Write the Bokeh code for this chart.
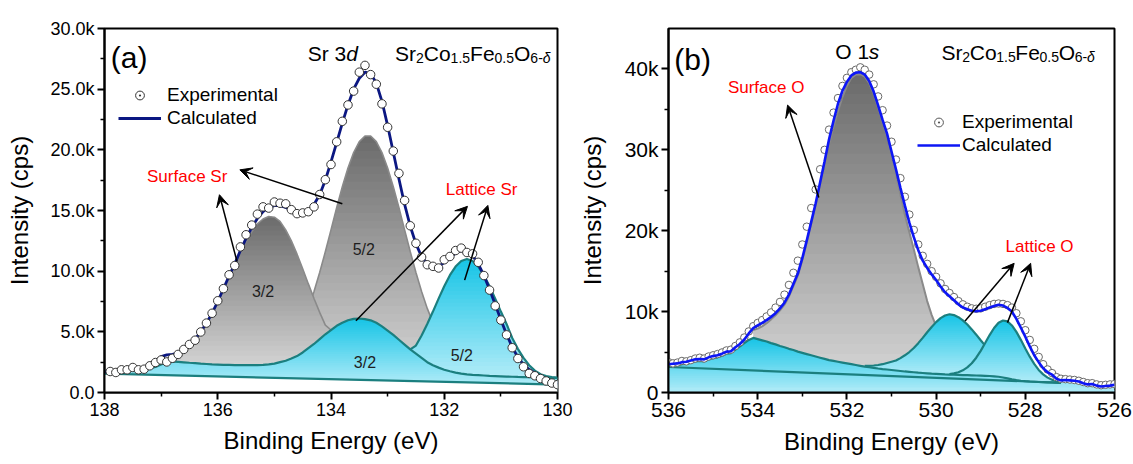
import numpy as np
from bokeh.plotting import figure
from bokeh.layouts import row
from bokeh.models import Range1d, FixedTicker, Arrow, VeeHead, Label, Legend, LegendItem
from bokeh.embed import file_html
from bokeh.resources import INLINE

FONT = "Liberation Sans"

# ====================== panel (a): Sr 3d (values in k cps) ======================
a_grid_first, a_grid_last, a_grid_n = 138.0, 130.0, 81
a_exp_first, a_exp_last, a_exp_n = 137.9, 130.0, 80

a_exp = [1.73, 1.65, 1.87, 1.87, 2.06, 1.87, 1.92, 2.20, 2.47, 2.68,
         2.52, 2.82, 3.14, 3.55, 3.96, 4.31, 4.99, 5.72, 6.53, 7.56,
         8.56, 9.70, 10.46, 12.00, 13.00, 13.80, 14.70, 15.30, 15.20, 15.70,
         15.60, 15.55, 15.07, 14.74, 14.80, 14.90, 15.30, 16.32, 17.54, 18.79,
         20.66, 22.35, 23.70, 24.84, 26.40, 26.96, 26.20, 25.41, 23.79, 21.86,
         19.90, 18.06, 15.83, 13.74, 12.30, 11.16, 10.53, 10.40, 10.26, 10.94,
         11.21, 11.70, 11.90, 11.54, 11.43, 10.73, 9.64, 8.44, 7.14, 5.97,
         4.75, 3.69, 2.80, 2.12, 1.57, 1.38, 1.15, 0.95, 0.78, 0.65]

a_calc = [1.70, 1.72, 1.75, 1.80, 1.85, 1.90, 1.95, 2.00, 2.15, 2.50,
          2.95, 3.10, 3.15, 3.25, 3.55, 3.95, 4.40, 5.00, 5.70, 6.55,
          7.50, 8.55, 9.60, 10.60, 11.70, 12.70, 13.60, 14.35, 14.90, 15.25,
          15.40, 15.40, 15.25, 15.05, 14.85, 14.80, 15.00, 15.50, 16.30, 17.50,
          19.00, 20.60, 22.20, 23.70, 25.00, 25.90, 26.40, 26.30, 25.50, 24.00,
          22.00, 19.80, 17.60, 15.50, 13.70, 12.25, 11.20, 10.60, 10.35, 10.40,
          10.70, 11.10, 11.50, 11.70, 11.65, 11.30, 10.60, 9.65, 8.50, 7.25,
          6.00, 4.80, 3.75, 2.90, 2.30, 1.90, 1.60, 1.35, 1.10, 0.88,
          0.72]

# lattice Sr 3d3/2 component on its Shirley background (lower envelope)
a_lat32 = [1.72, 1.74, 1.76, 1.80, 1.83, 1.86, 1.90, 1.95, 2.00, 2.10,
           2.30, 2.55, 2.55, 2.52, 2.49, 2.45, 2.42, 2.38, 2.35, 2.32,
           2.30, 2.28, 2.27, 2.26, 2.25, 2.25, 2.25, 2.26, 2.28, 2.32,
           2.38, 2.50, 2.62, 2.80, 3.00, 3.30, 3.65, 4.00, 4.40, 4.80,
           5.15, 5.50, 5.75, 5.95, 6.07, 6.10, 6.05, 5.95, 5.75, 5.45,
           5.10, 4.75, 4.35, 3.95, 3.55, 3.20, 2.85, 2.50, 2.25, 2.05,
           1.88, 1.75, 1.64, 1.55, 1.50, 1.46, 1.43, 1.40, 1.37, 1.35,
           1.33, 1.31, 1.30, 1.28, 1.27, 1.26, 1.24, 1.23, 1.21, 1.20,
           1.18]

a_bg_x = [138.0, 130.0]
a_bg_y = [1.55, 0.65]

a_sur32_first = 136.9
a_sur32 = [2.55, 2.70, 2.95, 3.30, 3.75, 4.25, 4.90, 5.65, 6.50, 7.45,
           8.45, 9.50, 10.55, 11.55, 12.45, 13.25, 13.90, 14.30, 14.50, 14.45,
           14.10, 13.40, 12.50, 11.40, 10.20, 8.95, 7.75, 6.60, 5.55, 5.15]

a_sur52_first = 134.6
a_sur52 = [4.80, 5.76, 6.93, 8.32, 9.89, 11.60, 13.40, 15.23, 16.96, 18.51,
           19.78, 20.68, 21.14, 21.14, 20.68, 19.78, 18.51, 16.96, 15.23, 13.40,
           11.60, 9.89, 8.32, 6.93, 5.76, 4.80, 4.04]

a_lat52_first = 132.6
a_lat52 = [3.18, 3.87, 4.70, 5.65, 6.67, 7.74, 8.76, 9.67, 10.38, 10.84,
           11.00, 10.84, 10.38, 9.67, 8.76, 7.74, 6.67, 5.65, 4.50, 3.60,
           2.85, 2.25, 1.80, 1.50, 1.35, 1.27, 1.22]

a_xticks = [138, 136, 134, 132, 130]
a_xminor = [137, 135, 133, 131]
a_yticks = [0, 5, 10, 15, 20, 25, 30]
a_yminor = [2.5, 7.5, 12.5, 17.5, 22.5, 27.5]
a_ylabels = ["0.0", "5.0k", "10.0k", "15.0k", "20.0k", "25.0k", "30.0k"]

# ====================== panel (b): O 1s (values in k cps) ======================
b_grid_first, b_grid_last, b_grid_n = 536.0, 526.0, 101

b_exp = [3.75, 3.60, 3.70, 3.90, 3.85, 4.00, 4.20, 4.30, 4.20, 4.45,
         4.60, 4.75, 4.95, 5.20, 5.30, 5.75, 6.20, 6.80, 7.55, 8.20,
         8.60, 8.95, 9.40, 9.90, 10.50, 11.20, 12.10, 13.30, 14.80, 16.30,
         18.30, 20.50, 22.80, 25.10, 27.60, 30.00, 32.50, 34.60, 36.40, 37.90,
         38.90, 39.60, 39.90, 40.20, 39.90, 39.30, 38.10, 36.60, 34.90, 33.00,
         31.00, 28.80, 26.50, 24.20, 22.00, 20.10, 18.30, 16.90, 15.90, 15.00,
         14.30, 13.50, 12.80, 12.30, 11.80, 11.30, 10.90, 10.60, 10.40, 10.35,
         10.40, 10.60, 10.80, 10.95, 11.00, 10.95, 10.80, 10.50, 9.80, 8.80,
         7.70, 6.50, 5.40, 4.40, 3.50, 2.85, 2.40, 1.90, 1.70, 1.65,
         1.60, 1.55, 1.45, 1.30, 1.15, 1.15, 1.00, 0.90, 0.95, 1.00,
         1.05]

b_calc = [3.50, 3.55, 3.60, 3.75, 3.80, 3.95, 4.10, 4.15, 4.10, 4.35,
          4.50, 4.60, 4.80, 5.05, 5.10, 5.60, 6.00, 6.55, 7.30, 7.95,
          8.30, 8.60, 8.95, 9.35, 9.80, 10.40, 11.10, 12.10, 13.40, 14.70,
          16.60, 18.80, 21.10, 23.40, 26.00, 28.60, 31.30, 33.60, 35.70, 37.30,
          38.40, 39.20, 39.55, 39.60, 39.30, 38.50, 37.20, 35.50, 33.70, 32.00,
          29.80, 27.60, 25.30, 23.10, 21.00, 19.20, 17.60, 16.30, 15.40, 14.60,
          13.90, 13.10, 12.40, 11.90, 11.40, 10.90, 10.50, 10.30, 10.10, 10.05,
          10.10, 10.30, 10.50, 10.70, 10.85, 10.75, 10.45, 10.00, 9.10, 8.00,
          6.90, 5.70, 4.60, 3.75, 3.00, 2.50, 2.20, 1.70, 1.50, 1.55,
          1.50, 1.45, 1.35, 1.15, 1.00, 1.05, 0.85, 0.75, 0.80, 0.85,
          0.95]

# shoulder component (534 eV) on its Shirley background = lower envelope
b_base = [3.25, 3.30, 3.35, 3.50, 3.55, 3.70, 3.85, 3.90, 3.85, 4.10,
          4.25, 4.35, 4.55, 4.80, 4.85, 5.30, 5.70, 6.10, 6.50, 6.75,
          6.60, 6.45, 6.30, 6.10, 5.95, 5.75, 5.60, 5.40, 5.25, 5.05,
          4.90, 4.75, 4.60, 4.45, 4.30, 4.15, 4.00, 3.90, 3.80, 3.70,
          3.60, 3.50, 3.40, 3.30, 3.20, 3.12, 3.05, 2.97, 2.90, 2.84,
          2.78, 2.72, 2.66, 2.60, 2.55, 2.50, 2.45, 2.41, 2.37, 2.33,
          2.30, 2.27, 2.24, 2.22, 2.20, 2.18, 2.16, 2.14, 2.12, 2.10,
          2.08, 2.06, 2.04, 2.00, 1.95, 1.85, 1.75, 1.62, 1.52, 1.45,
          1.40, 1.36, 1.33, 1.30, 1.28, 1.26, 1.24, 1.22, 1.20, 1.35,
          1.35, 1.30, 1.20, 1.02, 0.88, 0.92, 0.74, 0.64, 0.68, 0.73,
          0.83]
b_base_line_last = 527.2

b_bg_x = [536.0, 527.2]
b_bg_y = [3.15, 1.20]

b_surf_first = 534.1
b_surf = [7.72, 7.90, 8.18, 8.57, 9.04, 9.55, 10.15, 10.85, 11.85, 13.15,
          14.45, 16.35, 18.55, 20.85, 23.15, 25.75, 28.35, 30.68, 32.85, 34.82,
          36.53, 37.90, 38.90, 39.30, 39.35, 39.05, 38.25, 36.95, 35.25, 33.45,
          31.75, 29.46, 26.99, 24.48, 21.96, 19.80, 17.70, 15.50, 13.40, 11.30,
          9.60, 8.20, 7.00, 6.00, 5.16, 4.47, 3.91]

b_lat1_first = 531.6
b_lat1 = [3.28, 3.30, 3.34, 3.40, 3.50, 3.65, 3.80, 3.95, 4.25, 4.60,
          5.00, 5.50, 6.10, 6.75, 7.45, 8.10, 8.70, 9.20, 9.52, 9.67,
          9.57, 9.31, 8.92, 8.40, 7.80, 7.15, 6.46, 5.79, 5.14, 4.54,
          4.01, 3.55, 3.15, 2.83, 2.57, 2.37, 2.20]

b_lat2_first = 529.7
b_lat2 = [2.28, 2.36, 2.50, 2.74, 3.10, 3.61, 4.30, 5.15, 6.11, 7.10,
          7.97, 8.62, 8.90, 8.80, 8.29, 7.49, 6.51, 5.45, 4.43, 3.53,
          2.79, 2.24, 1.84, 1.57, 1.40, 1.29]

b_xticks = [536, 534, 532, 530, 528, 526]
b_xminor = [535, 533, 531, 529, 527]
b_yticks = [0, 10, 20, 30, 40]
b_yminor = [5, 15, 25, 35]
b_ylabels = ["0", "10k", "20k", "30k", "40k"]

# ---------------------------------------------------------------------------
a_grid = np.round(np.linspace(a_grid_first, a_grid_last, a_grid_n), 2)
a_exp_x = np.round(np.linspace(a_exp_first, a_exp_last, a_exp_n), 2)
b_grid = np.round(np.linspace(b_grid_first, b_grid_last, b_grid_n), 2)
for name, arr, n in [("a_exp", a_exp, a_exp_n), ("a_calc", a_calc, a_grid_n), ("a_lat32", a_lat32, a_grid_n),
                     ("b_exp", b_exp, b_grid_n), ("b_calc", b_calc, b_grid_n), ("b_base", b_base, b_grid_n)]:
    if len(arr) != n:
        raise SystemExit("length mismatch %s %d != %d" % (name, len(arr), n))

TEAL = "#1b7f7f"
GRAY_EDGE = "#8a8a8a"
GRAY_TOP, GRAY_BOT = "#6a6a6a", "#d3d3d3"
CYAN_TOP, CYAN_BOT = "#16c4e6", "#b2ecf8"


def hex2rgb(h):
    h = h.lstrip("#")
    return tuple(int(h[i:i + 2], 16) for i in (0, 2, 4))


def mix(c_from, c_to, t):
    a, b = hex2rgb(c_from), hex2rgb(c_to)
    return "#%02x%02x%02x" % tuple(int(round(a[i] + (b[i] - a[i]) * t)) for i in range(3))


def subdivide(x, y, m=10):
    """Extra vertices placed on the straight segments of the same polyline (shape unchanged),
    so that horizontal colour bands follow the drawn outline closely."""
    x = np.asarray(x, float)
    y = np.asarray(y, float)
    t = np.linspace(0.0, 1.0, m + 1)[:-1]
    xs = np.concatenate([x[i] + (x[i + 1] - x[i]) * t for i in range(len(x) - 1)] + [x[-1:]])
    ys = np.concatenate([y[i] + (y[i + 1] - y[i]) * t for i in range(len(y) - 1)] + [y[-1:]])
    return xs, ys


def gradient_area(p, x, base, top, c_top, c_bot, lo, hi, n=30):
    base = np.asarray(base, float)
    top = np.maximum(np.asarray(top, float), base)
    xs, bs = subdivide(x, base)
    _, ts = subdivide(x, top)
    step = (hi - lo) / n
    for i in range(n):
        b0 = lo + i * step if i > 0 else -1e6
        b1 = lo + (i + 1.4) * step if i < n - 1 else 1e6
        col = mix(c_bot, c_top, (i + 0.5) / n)
        p.varea(x=xs, y1=np.clip(bs, b0, b1), y2=np.clip(ts, b0, b1), fill_color=col)


def span(grid, first, vals):
    i0 = int(np.argmin(np.abs(grid - first)))
    return slice(i0, i0 + len(vals))


def make_fig(width, xr, yr, ml, mr, mt, mb, xt, xm, yt, ym, ylab, tick_size, ylab_standoff):
    p = figure(width=width, height=464, x_range=Range1d(*xr), y_range=Range1d(*yr),
               output_backend="svg", toolbar_location=None,
               min_border_left=ml, min_border_right=mr, min_border_top=mt, min_border_bottom=mb)
    p.xgrid.visible = False
    p.ygrid.visible = False
    p.outline_line_color = "black"
    p.outline_line_width = 2
    p.outline_line_alpha = 1
    p.background_fill_color = "white"
    p.border_fill_color = "white"
    p.xaxis.ticker = FixedTicker(ticks=xt, minor_ticks=xm)
    p.yaxis.ticker = FixedTicker(ticks=yt, minor_ticks=ym)
    p.yaxis.major_label_overrides = {t: s for t, s in zip(yt, ylab)}
    p.xaxis.axis_label = "Binding Energy (eV)"
    p.yaxis.axis_label = "Intensity (cps)"
    for ax in (p.xaxis[0], p.yaxis[0]):
        ax.axis_line_width = 2
        ax.major_tick_line_width = 2
        ax.minor_tick_line_width = 1.5
        ax.major_tick_out = 7
        ax.major_tick_in = 0
        ax.minor_tick_out = 4
        ax.minor_tick_in = 0
        ax.axis_label_text_font = FONT
        ax.axis_label_text_font_style = "normal"
        ax.axis_label_text_font_size = "24px"
        ax.axis_label_text_color = "black"
        ax.major_label_text_font = FONT
        ax.major_label_text_font_size = tick_size
        ax.major_label_text_color = "black"
        ax.major_label_standoff = 3
    p.xaxis.axis_label_standoff = 8
    p.yaxis.axis_label_standoff = ylab_standoff
    return p


def add_text(p, x, y, text, size, color="black", align="left", baseline="alphabetic", style="normal"):
    p.add_layout(Label(x=x, y=y, text=text, text_font=FONT, text_font_size="%dpx" % size,
                       text_color=color, text_align=align, text_baseline=baseline,
                       text_font_style=style))


WIDTHS = {"S": 0.667, "r": 0.333, "C": 0.722, "o": 0.556, "F": 0.611, "e": 0.556, "O": 0.778,
          ".": 0.278, "-": 0.333, " ": 0.278, "s": 0.5, "d": 0.556, "δ": 0.56}


def tw(s, size):
    return sum(WIDTHS.get(ch, 0.556) for ch in s) * size


def rich(p, x0, y0, parts, ppe, ppk, size=21, sub=14, drop=4.5):
    cum = 0.0
    for txt, kind in parts:
        fs = size if kind in ("n", "i") else sub
        y = y0 if kind in ("n", "i") else y0 - drop / ppk
        style = "italic" if kind in ("i", "si") else "normal"
        add_text(p, x0 - cum / ppe, y, txt, fs, style=style)
        cum += tw(txt, fs)


FORMULA = [("Sr", "n"), ("2", "s"), ("Co", "n"), ("1.5", "s"), ("Fe", "n"), ("0.5", "s"),
           ("O", "n"), ("6-", "s"), ("δ", "si")]


def arrow(p, xs, ys, xe, ye):
    p.add_layout(Arrow(end=VeeHead(size=12, fill_color="black", line_color="black", line_width=1),
                       x_start=xs, y_start=ys, x_end=xe, y_end=ye,
                       line_color="black", line_width=1.5))


# ============================ figure (a) ============================
pa = make_fig(575, (138, 130), (0, 30), 104, 18, 23, 72, a_xticks, a_xminor, a_yticks, a_yminor,
              a_ylabels, "18px", 14)
ppe_a, ppk_a = 453 / 8.0, 369 / 30.0

lat32 = np.array(a_lat32)
gradient_area(pa, a_grid, np.zeros(a_grid_n), lat32, CYAN_TOP, CYAN_BOT, 0.6, 6.1)
pa.patch(x=[a_bg_x[0]] + a_bg_x + [a_bg_x[-1]], y=[-1] + a_bg_y + [-1], fill_color="white", line_color=None)

s52 = span(a_grid, a_sur52_first, a_sur52)
s32 = span(a_grid, a_sur32_first, a_sur32)
l52 = span(a_grid, a_lat52_first, a_lat52)

gradient_area(pa, a_grid[s52], lat32[s52], a_sur52, GRAY_TOP, GRAY_BOT, 2.0, 21.2)
pa.line(a_grid[s52], np.maximum(a_sur52, lat32[s52]), line_color=GRAY_EDGE, line_width=1.6)
gradient_area(pa, a_grid[s32], lat32[s32], a_sur32, GRAY_TOP, GRAY_BOT, 2.2, 14.6)
pa.line(a_grid[s32], np.maximum(a_sur32, lat32[s32]), line_color=GRAY_EDGE, line_width=1.6)
gradient_area(pa, a_grid[l52], lat32[l52], a_lat52, CYAN_TOP, CYAN_BOT, 1.2, 11.0)
pa.line(a_grid[l52], np.maximum(a_lat52, lat32[l52]), line_color=TEAL, line_width=2.2)
pa.line(a_grid, lat32, line_color=TEAL, line_width=2.2)
pa.line(a_bg_x, a_bg_y, line_color=TEAL, line_width=2.2)
calc_a = pa.line(a_grid, a_calc, line_color="#0b1782", line_width=2.8)
pa.scatter(a_exp_x, a_exp, marker="circle", size=8.5, fill_color="white", line_color="#333333", line_width=1)
leg_pts_a = pa.scatter(x=[np.nan], y=[np.nan], marker="circle_dot", size=8.5, fill_color="white",
                       line_color="#333333", line_width=1)

add_text(pa, 137.89, 27.6, "(a)", 30)
rich(pa, 134.41, 27.94, [("Sr 3", "n"), ("d", "i")], ppe_a, ppk_a)
rich(pa, 132.87, 27.94, FORMULA, ppe_a, ppk_a)
add_text(pa, 136.54, 17.78, "Surface Sr", 17, color="#ff0000", align="center", baseline="middle")
add_text(pa, 131.34, 16.73, "Lattice Sr", 17, color="#ff0000", align="center", baseline="middle")
for xx, yy, tt in [(135.2, 8.36, "3/2"), (133.42, 11.76, "5/2"), (133.40, 2.47, "3/2"), (131.69, 3.01, "5/2")]:
    add_text(pa, xx, yy, tt, 16, color="#1e1e1e", align="center", baseline="middle")
arrow(pa, 133.80, 15.56, 135.61, 18.35)
arrow(pa, 135.66, 10.80, 135.97, 16.30)
arrow(pa, 133.56, 5.92, 131.59, 15.34)
arrow(pa, 131.64, 9.26, 131.23, 15.42)

leg_a = Legend(items=[LegendItem(label="Experimental", renderers=[leg_pts_a]),
                      LegendItem(label="Calculated", renderers=[calc_a])],
               location=(14, 263), orientation="vertical")
leg_a.label_standoff = 6
# ============================ figure (b) ============================
pb = make_fig(558, (536, 526), (0, 45), 86, 19, 28, 67, b_xticks, b_xminor, b_yticks, b_yminor,
              b_ylabels, "21px", 16)
ppe_b, ppk_b = 453 / 10.0, 369 / 45.0

base_b = np.array(b_base)
gradient_area(pb, b_grid, np.zeros(b_grid_n), base_b, CYAN_TOP, CYAN_BOT, 0.0, 6.75)
sf = span(b_grid, b_surf_first, b_surf)
l1 = span(b_grid, b_lat1_first, b_lat1)
l2 = span(b_grid, b_lat2_first, b_lat2)
gradient_area(pb, b_grid[sf], base_b[sf], b_surf, GRAY_TOP, GRAY_BOT, 2.3, 39.4)
pb.line(b_grid[sf], np.maximum(b_surf, base_b[sf]), line_color=GRAY_EDGE, line_width=2)
gradient_area(pb, b_grid[l1], base_b[l1], b_lat1, CYAN_TOP, CYAN_BOT, 2.0, 9.7)
pb.line(b_grid[l1], np.maximum(b_lat1, base_b[l1]), line_color=TEAL, line_width=2.2)
gradient_area(pb, b_grid[l2], base_b[l2], b_lat2, CYAN_TOP, CYAN_BOT, 1.2, 8.9)
pb.line(b_grid[l2], np.maximum(b_lat2, base_b[l2]), line_color=TEAL, line_width=2.2)
keep = b_grid >= b_base_line_last - 1e-9
pb.line(b_grid[keep], base_b[keep], line_color=TEAL, line_width=2.2)
pb.line(b_bg_x, b_bg_y, line_color=TEAL, line_width=2.2)
pb.scatter(b_grid, b_exp, marker="circle", size=7.5, fill_color="white", line_color="#6a6a6a", line_width=1)
calc_b = pb.line(b_grid, b_calc, line_color="#0d16f5", line_width=2.6)
leg_pts_b = pb.scatter(x=[np.nan], y=[np.nan], marker="circle_dot", size=8, fill_color="white",
                       line_color="#555555", line_width=1)

add_text(pb, 535.87, 41.15, "(b)", 30)
rich(pb, 532.26, 42.18, [("O 1", "n"), ("s", "i")], ppe_b, ppk_b)
rich(pb, 529.88, 42.05, FORMULA, ppe_b, ppk_b)
add_text(pb, 533.81, 37.65, "Surface O", 17, color="#ff0000", align="center", baseline="middle")
add_text(pb, 527.68, 18.09, "Lattice O", 17, color="#ff0000", align="center", baseline="middle")
arrow(pb, 532.63, 24.12, 533.33, 35.53)
arrow(pb, 529.35, 8.84, 528.25, 15.97)
arrow(pb, 528.40, 8.64, 527.88, 15.97)

leg_b = Legend(items=[LegendItem(label="Experimental", renderers=[leg_pts_b]),
                      LegendItem(label="Calculated", renderers=[calc_b])],
               location=(249, 236), orientation="vertical")
leg_b.label_standoff = 2

for lg in (leg_a, leg_b):
    lg.label_text_font = FONT
    lg.label_text_font_size = "19px"
    lg.label_text_color = "black"
    lg.glyph_width = 43
    lg.glyph_height = 22
    lg.label_height = 22
    lg.spacing = 1
    lg.padding = 0
    lg.margin = 0
    lg.border_line_alpha = 0
    lg.background_fill_alpha = 0
pa.add_layout(leg_a)
pb.add_layout(leg_b)

layout = row(pa, pb)
open("out.html", "w").write(file_html(layout, INLINE))
